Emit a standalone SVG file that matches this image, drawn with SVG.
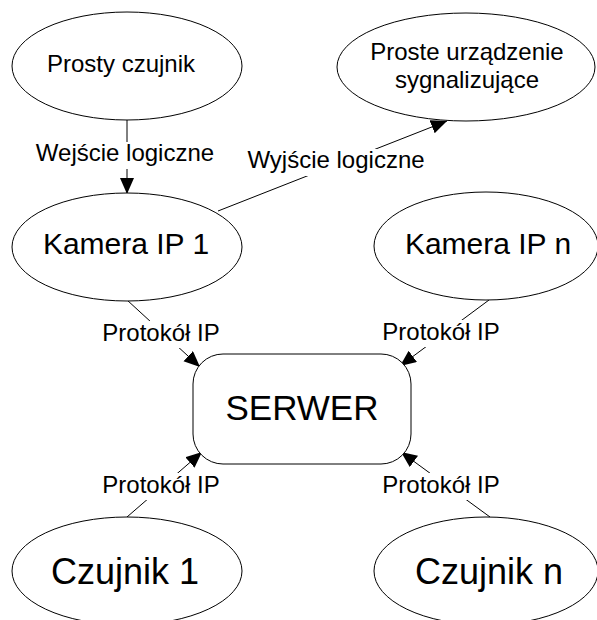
<svg xmlns="http://www.w3.org/2000/svg" width="597" height="620" viewBox="0 0 597 620">
<style>
.n{fill:#fff;stroke:#000;stroke-width:1}
.t{font-family:"Liberation Sans",Arial,sans-serif;fill:#000;text-anchor:middle}
.c{stroke:#000;stroke-width:1;fill:none;marker-end:url(#ah)}
.lb{fill:#fff}
</style>
<defs>
<marker id="ah" markerUnits="userSpaceOnUse" markerWidth="17" markerHeight="15" refX="16" refY="7" orient="auto">
<path d="M0,0 L16,7 L0,14 Z" fill="#000"/>
</marker>
</defs>
<rect width="597" height="620" fill="#fff"/>
<g id="connectors">
<line class="c" x1="127" y1="120" x2="127" y2="194"/>
<line class="c" x1="218" y1="211" x2="447" y2="121"/>
<line class="c" x1="127" y1="300" x2="200" y2="367"/>
<line class="c" x1="489" y1="300" x2="400" y2="366"/>
<line class="c" x1="127" y1="517" x2="202" y2="452"/>
<line class="c" x1="490" y1="517" x2="401" y2="452"/>
<rect class="lb" x="34" y="142" width="182" height="27"/>
<text class="t" x="125" y="161" font-size="24">Wejście logiczne</text>
<rect class="lb" x="246" y="149" width="180" height="27"/>
<text class="t" x="336" y="168" font-size="24">Wyjście logiczne</text>
<rect class="lb" x="101" y="321" width="121" height="27"/>
<text class="t" x="161" y="341" font-size="24">Protokół IP</text>
<rect class="lb" x="381" y="320" width="121" height="27"/>
<text class="t" x="441" y="340" font-size="24">Protokół IP</text>
<rect class="lb" x="101" y="473" width="121" height="27"/>
<text class="t" x="161" y="493" font-size="24">Protokół IP</text>
<rect class="lb" x="381" y="473" width="121" height="27"/>
<text class="t" x="441" y="493" font-size="24">Protokół IP</text>
</g>
<g id="prosty-czujnik">
<ellipse class="n" cx="127" cy="66" rx="115" ry="54"/>
<text class="t" x="121" y="72" font-size="24">Prosty czujnik</text>
</g>
<g id="proste-urzadzenie">
<ellipse class="n" cx="466" cy="67" rx="129" ry="54"/>
<text class="t" x="467" y="60" font-size="24">Proste urządzenie</text>
<text class="t" x="467" y="88" font-size="24">sygnalizujące</text>
</g>
<g id="kamera-1">
<ellipse class="n" cx="127" cy="247" rx="115" ry="54"/>
<text class="t" x="126" y="254" font-size="30">Kamera IP 1</text>
</g>
<g id="kamera-n">
<ellipse class="n" cx="486" cy="246" rx="112" ry="54"/>
<text class="t" x="488" y="254" font-size="30">Kamera IP n</text>
</g>
<g id="serwer">
<rect class="n" x="193" y="354" width="218" height="110" rx="30" ry="30"/>
<text class="t" x="302" y="420" font-size="35">SERWER</text>
</g>
<g id="czujnik-1">
<ellipse class="n" cx="127" cy="571" rx="115" ry="54"/>
<text class="t" x="125" y="584" font-size="36">Czujnik 1</text>
</g>
<g id="czujnik-n">
<ellipse class="n" cx="486" cy="571" rx="112" ry="54"/>
<text class="t" x="489" y="584" font-size="36">Czujnik n</text>
</g>
</svg>
